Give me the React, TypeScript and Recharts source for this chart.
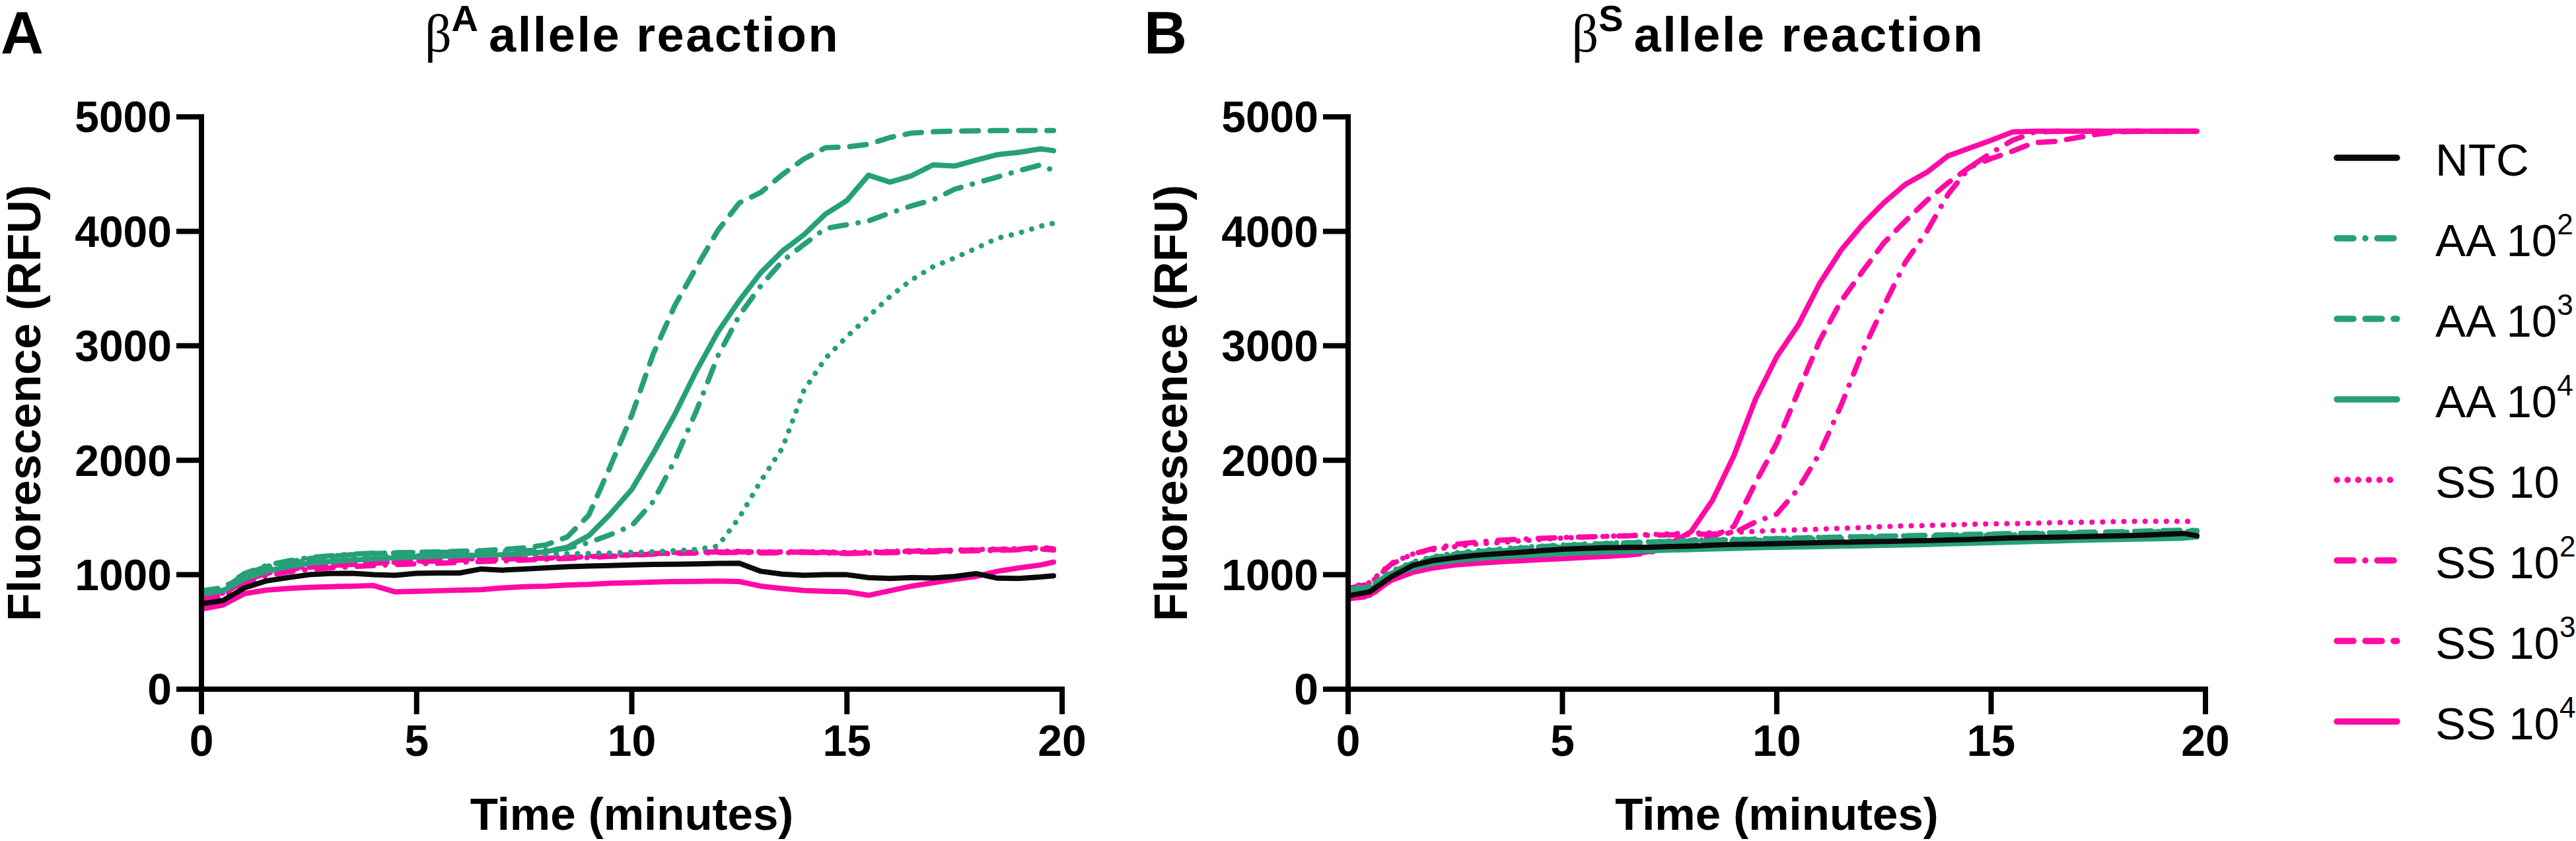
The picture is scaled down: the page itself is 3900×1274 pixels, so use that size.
import { LineChart, Line, XAxis, YAxis } from 'recharts';

const FONT = '"Liberation Sans", Arial, Helvetica, sans-serif';
const GREEN = '#27a07a';
const PINK = '#ff0aa5';

const times = [0, 0.5, 1, 1.5, 2, 2.5, 3, 3.5, 4, 4.5, 5, 5.5, 6, 6.5, 7, 7.5, 8, 8.5, 9, 9.5, 10, 10.5, 11, 11.5, 12, 12.5, 13, 13.5, 14, 14.5, 15, 15.5, 16, 16.5, 17, 17.5, 18, 18.5, 19, 19.5, 19.8];
const xTicks = [0, 5, 10, 15, 20];
const yTicks = [0, 1000, 2000, 3000, 4000, 5000];

// panel A: beta-A allele reaction
const ntcA = [745, 775, 885, 945, 975, 1000, 1010, 1012, 1000, 995, 1012, 1015, 1015, 1050, 1040, 1050, 1060, 1070, 1075, 1080, 1085, 1090, 1092, 1095, 1098, 1100, 1030, 1005, 995, 1000, 1000, 975, 968, 975, 972, 985, 1010, 970, 968, 980, 990];
const aa10A = [840, 865, 990, 1060, 1100, 1125, 1140, 1150, 1158, 1162, 1165, 1168, 1170, 1172, 1175, 1178, 1180, 1182, 1185, 1190, 1195, 1200, 1210, 1220, 1250, 1500, 1820, 2107, 2610, 2890, 3080, 3255, 3430, 3575, 3690, 3767, 3852, 3940, 3985, 4045, 4070];
const aa100A = [860, 885, 1010, 1080, 1120, 1150, 1165, 1180, 1188, 1192, 1195, 1195, 1198, 1200, 1205, 1210, 1215, 1230, 1280, 1350, 1428, 1640, 2000, 2430, 2910, 3265, 3525, 3740, 3885, 4025, 4058, 4090, 4160, 4222, 4275, 4367, 4422, 4475, 4530, 4580, 4530];
const aa1000A = [850, 880, 1000, 1070, 1110, 1140, 1160, 1175, 1185, 1190, 1195, 1200, 1205, 1210, 1220, 1235, 1260, 1330, 1520, 1945, 2394, 2930, 3352, 3685, 4007, 4248, 4340, 4496, 4632, 4730, 4738, 4760, 4820, 4858, 4870, 4875, 4878, 4880, 4880, 4880, 4880];
const aa10000A = [830, 860, 965, 1030, 1070, 1100, 1115, 1128, 1138, 1148, 1155, 1160, 1165, 1170, 1175, 1185, 1200, 1240, 1340, 1530, 1745, 2060, 2400, 2780, 3120, 3395, 3640, 3828, 3970, 4150, 4270, 4490, 4430, 4485, 4580, 4570, 4622, 4670, 4690, 4720, 4705];
const ss10A = [810, 840, 960, 1020, 1050, 1070, 1085, 1095, 1105, 1112, 1120, 1128, 1135, 1140, 1145, 1150, 1155, 1160, 1168, 1175, 1182, 1190, 1195, 1200, 1205, 1205, 1200, 1200, 1202, 1200, 1195, 1198, 1205, 1210, 1212, 1215, 1220, 1225, 1228, 1235, 1230];
const ss100A = [780, 810, 930, 990, 1025, 1045, 1060, 1070, 1080, 1088, 1095, 1100, 1108, 1115, 1120, 1128, 1135, 1142, 1150, 1160, 1170, 1180, 1185, 1190, 1192, 1195, 1190, 1192, 1195, 1190, 1185, 1188, 1192, 1198, 1200, 1205, 1210, 1212, 1218, 1225, 1215];
const ss1000A = [790, 830, 950, 1010, 1045, 1065, 1080, 1090, 1100, 1108, 1112, 1120, 1128, 1132, 1136, 1140, 1145, 1150, 1158, 1165, 1175, 1185, 1190, 1197, 1198, 1200, 1197, 1196, 1198, 1195, 1188, 1190, 1200, 1205, 1208, 1212, 1215, 1220, 1222, 1240, 1225];
const ss10000A = [700, 735, 835, 865, 880, 890, 895, 900, 905, 850, 855, 860, 865, 870, 885, 895, 900, 910, 915, 925, 930, 935, 940, 942, 945, 940, 900, 880, 862, 855, 850, 820, 860, 900, 930, 960, 985, 1030, 1060, 1085, 1110];

// panel B: beta-S allele reaction
const ntcB = [815, 850, 980, 1080, 1125, 1150, 1170, 1183, 1195, 1210, 1222, 1230, 1236, 1238, 1240, 1245, 1250, 1258, 1264, 1268, 1272, 1276, 1280, 1283, 1287, 1291, 1295, 1298, 1303, 1308, 1315, 1322, 1325, 1328, 1332, 1336, 1340, 1345, 1352, 1360, 1340];
const aa10B = [880, 900, 1030, 1110, 1160, 1190, 1210, 1225, 1238, 1250, 1260, 1268, 1275, 1282, 1288, 1294, 1300, 1305, 1310, 1314, 1318, 1322, 1326, 1330, 1334, 1337, 1340, 1343, 1346, 1350, 1353, 1356, 1359, 1362, 1365, 1368, 1371, 1374, 1377, 1380, 1378];
const aa100B = [870, 890, 1010, 1090, 1140, 1170, 1190, 1205, 1220, 1232, 1242, 1250, 1258, 1265, 1272, 1278, 1284, 1290, 1295, 1300, 1304, 1308, 1312, 1316, 1320, 1324, 1328, 1332, 1336, 1340, 1344, 1348, 1352, 1356, 1360, 1364, 1368, 1372, 1376, 1380, 1375];
const aa1000B = [860, 885, 1020, 1100, 1150, 1180, 1200, 1215, 1230, 1245, 1255, 1262, 1270, 1278, 1285, 1290, 1295, 1300, 1305, 1310, 1315, 1320, 1325, 1328, 1332, 1336, 1340, 1345, 1348, 1352, 1355, 1360, 1362, 1366, 1370, 1373, 1376, 1380, 1385, 1390, 1385];
const aa10000B = [860, 865, 990, 1060, 1100, 1125, 1140, 1155, 1165, 1175, 1185, 1192, 1200, 1205, 1210, 1215, 1220, 1225, 1230, 1235, 1240, 1243, 1246, 1250, 1253, 1257, 1260, 1265, 1270, 1275, 1280, 1285, 1290, 1295, 1300, 1305, 1308, 1312, 1315, 1320, 1330];
const ss10B = [890, 930, 1100, 1180, 1220, 1245, 1268, 1280, 1295, 1308, 1320, 1328, 1335, 1342, 1350, 1358, 1362, 1366, 1370, 1378, 1386, 1392, 1398, 1405, 1412, 1420, 1427, 1430, 1435, 1440, 1445, 1446, 1450, 1455, 1458, 1460, 1465, 1466, 1466, 1466, 1465];
const ss100B = [880, 920, 1090, 1180, 1230, 1265, 1285, 1300, 1310, 1318, 1325, 1330, 1335, 1340, 1345, 1348, 1352, 1355, 1365, 1460, 1530, 1750, 2060, 2480, 2950, 3350, 3730, 4000, 4325, 4560, 4685, 4795, 4865, 4875, 4875, 4875, 4875, 4875, 4875, 4875, 4875];
const ss1000B = [790, 810, 960, 1030, 1065, 1090, 1105, 1115, 1125, 1135, 1145, 1155, 1160, 1170, 1190, 1250, 1300, 1330, 1423, 1800, 2150, 2600, 3045, 3390, 3650, 3900, 4090, 4270, 4425, 4560, 4635, 4700, 4775, 4785, 4818, 4850, 4870, 4875, 4875, 4875, 4875];
const ss10000B = [800, 820, 950, 1020, 1060, 1085, 1100, 1112, 1122, 1132, 1140, 1150, 1160, 1170, 1200, 1270, 1375, 1650, 2040, 2530, 2905, 3180, 3545, 3835, 4060, 4250, 4410, 4515, 4660, 4728, 4795, 4868, 4875, 4875, 4875, 4875, 4875, 4875, 4875, 4875, 4875];

const DASH_DOT = '25 18 0.1 18';
const DASHED = '25 18';
const DOTTED = '0.1 16';

// drawing order: pink first, black NTC on top
const seriesDefs = [
  { key: 'ss10000', color: PINK, dash: undefined },
  { key: 'ss1000', color: PINK, dash: DASHED },
  { key: 'ss100', color: PINK, dash: DASH_DOT },
  { key: 'ss10', color: PINK, dash: DOTTED },
  { key: 'aa10000', color: GREEN, dash: undefined },
  { key: 'aa1000', color: GREEN, dash: DASHED },
  { key: 'aa100', color: GREEN, dash: DASH_DOT },
  { key: 'aa10', color: GREEN, dash: DOTTED },
  { key: 'ntc', color: '#0a0a0a', dash: undefined },
];

const legendItems = [
  { label: 'NTC', sup: '', color: '#0a0a0a', dash: undefined },
  { label: 'AA 10', sup: '2', color: GREEN, dash: DASH_DOT },
  { label: 'AA 10', sup: '3', color: GREEN, dash: DASHED },
  { label: 'AA 10', sup: '4', color: GREEN, dash: undefined },
  { label: 'SS 10', sup: '', color: PINK, dash: DOTTED },
  { label: 'SS 10', sup: '2', color: PINK, dash: DASH_DOT },
  { label: 'SS 10', sup: '3', color: PINK, dash: DASHED },
  { label: 'SS 10', sup: '4', color: PINK, dash: undefined },
];

function buildRows(cols: Record<string, number[]>) {
  return times.map((t, i) => {
    const row: Record<string, number> = { t };
    Object.keys(cols).forEach(k => { row[k] = cols[k][i]; });
    return row;
  });
}

const dataA = buildRows({ ntc: ntcA, aa10: aa10A, aa100: aa100A, aa1000: aa1000A, aa10000: aa10000A, ss10: ss10A, ss100: ss100A, ss1000: ss1000A, ss10000: ss10000A });
const dataB = buildRows({ ntc: ntcB, aa10: aa10B, aa100: aa100B, aa1000: aa1000B, aa10000: aa10000B, ss10: ss10B, ss100: ss100B, ss1000: ss1000B, ss10000: ss10000B });

const renderXTitle = (props: any) => {
  const vb = props.viewBox;
  return (
    <text x={vb.x + vb.width / 2} y={vb.y + 213} textAnchor="middle" fontFamily={FONT} fontWeight={700} fontSize={69} fill="#000">
      Time (minutes)
    </text>
  );
};

const renderYTitle = (props: any) => {
  const vb = props.viewBox;
  const cx = vb.x + vb.width - 244;
  const cy = vb.y + vb.height / 2;
  return (
    <text x={cx} y={cy} transform={`rotate(-90 ${cx} ${cy})`} textAnchor="middle" fontFamily={FONT} fontWeight={700} fontSize={70} fill="#000">
      Fluorescence (RFU)
    </text>
  );
};

const axisLine = { stroke: '#000', strokeWidth: 8, strokeLinecap: 'square' as const };
const tickLine = { stroke: '#000', strokeWidth: 8 };
const tickFont = { fill: '#000', fontSize: 66, fontWeight: 700, fontFamily: FONT };

function Panel({ data, left, width, yWidth, right }: { data: any[]; left: number; width: number; yWidth: number; right: number }) {
  return (
    <div style={{ position: 'absolute', left, top: 0 }}>
      <LineChart width={width} height={1274} data={data} margin={{ top: 177, right, bottom: 0, left: 0 }}>
        <XAxis
          dataKey="t"
          type="number"
          domain={[0, 20]}
          ticks={xTicks}
          interval={0}
          height={230}
          tickSize={38}
          tickMargin={16}
          axisLine={axisLine}
          tickLine={tickLine}
          tick={tickFont}
          label={renderXTitle}
        />
        <YAxis
          type="number"
          domain={[0, 5000]}
          ticks={yTicks}
          interval={0}
          width={yWidth}
          tickSize={38}
          tickMargin={7}
          axisLine={axisLine}
          tickLine={tickLine}
          tick={tickFont}
          label={renderYTitle}
        />
        {seriesDefs.map(s => (
          <Line
            key={s.key}
            dataKey={s.key}
            type="linear"
            stroke={s.color}
            strokeWidth={8}
            strokeDasharray={s.dash}
            strokeLinecap="round"
            strokeLinejoin="round"
            dot={false}
            activeDot={false}
            isAnimationActive={false}
          />
        ))}
      </LineChart>
    </div>
  );
}

function Title({ cx, sup }: { cx: number; sup: string }) {
  return (
    <text x={cx} y={78} textAnchor="middle" fill="#000">
      <tspan fontFamily='"Liberation Serif", "DejaVu Serif", serif' fontSize={80}>β</tspan>
      <tspan fontFamily={FONT} fontWeight={700} fontSize={56} dy={-31}>{sup}</tspan>
      <tspan fontFamily={FONT} fontWeight={700} fontSize={74} letterSpacing={2.5} dy={31} dx={16}>allele reaction</tspan>
    </text>
  );
}

export default function App() {
  return (
    <div style={{ position: 'absolute', left: 0, top: 0, width: 3900, height: 1274, background: '#fff', overflow: 'hidden' }}>
      <Panel data={dataA} left={0} width={1690} yWidth={305} right={82} />
      <Panel data={dataB} left={1700} width={1720} yWidth={341} right={81} />
      <svg width={3900} height={1274} style={{ position: 'absolute', left: 0, top: 0, pointerEvents: 'none' }}>
        <text x={1} y={81} fontFamily={FONT} fontWeight={700} fontSize={90} fill="#000">A</text>
        <text x={1732} y={81} fontFamily={FONT} fontWeight={700} fontSize={90} fill="#000">B</text>
        <Title cx={957} sup="A" />
        <Title cx={2692} sup="S" />
        {legendItems.map((it, i) => {
          const y = 239 + i * 122;
          return (
            <g key={i}>
              <line x1={3538} x2={3629} y1={y} y2={y} stroke={it.color} strokeWidth={9.5} strokeLinecap="round" strokeDasharray={it.dash} />
              <text x={3687} y={y + 27} fontFamily={FONT} fontSize={69} fill="#000">
                {it.label}
                {it.sup ? <tspan fontSize={44} dy={-33}>{it.sup}</tspan> : null}
              </text>
            </g>
          );
        })}
      </svg>
    </div>
  );
}
